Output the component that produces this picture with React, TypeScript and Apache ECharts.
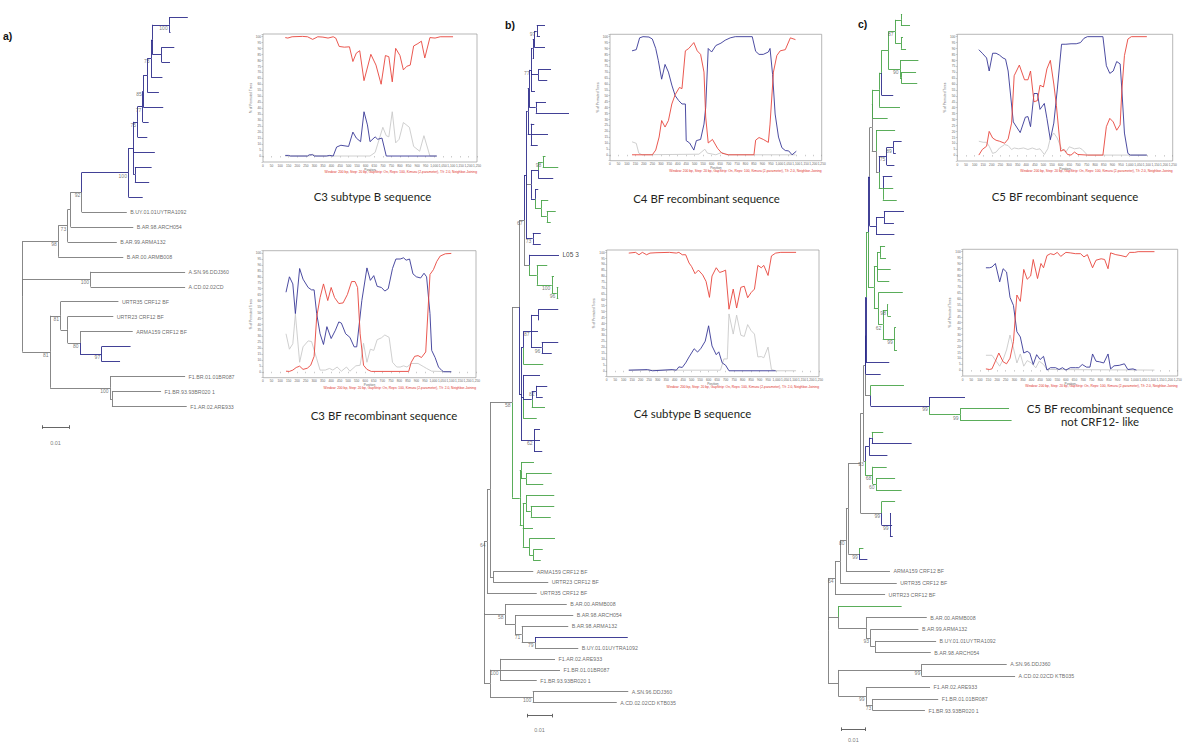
import React, { useEffect, useRef } from "react";
import * as echarts from "echarts";

// ---------- colours ----------
const BLUE = "#2c2b8a";
const GREEN = "#47a447";
const GREY = "#7b7b7b";
const COL: Record<string, string> = { k: GREY, b: BLUE, g: GREEN };
const P_RED = "#e8453c";
const P_BLUE = "#383896";
const P_GREY = "#c9c9c9";

// ---------- tree data (branch depth in units of 0.001 subst./site) ----------
type TN = { d: number; c: string; n?: string; b?: string; h?: boolean; k?: TN[] };
const L = (d: number, c: string, n = ""): TN => ({ d, c, n });
const LH = (d: number, c: string, n: string): TN => ({ d, c, n, h: true });
const N = (d: number, c: string, b: string, k: TN[]): TN => ({ d, c, b, k });

const TREE_A: TN = N(0, "k", "", [
  N(13.3, "k", "98", [
    N(16.8, "k", "73", [
      N(17.9, "k", "", [
        N(22, "k", "92", [
          N(39.3, "b", "100", [
            N(41.1, "b", "", [
              N(42.7, "b", "75", [
                N(44.6, "b", "77", [
                  N(44.8, "b", "85", [
                    N(46.3, "b", "", [
                      N(47.7, "b", "73", [
                        N(48.3, "b", "", [
                          N(54.4, "b", "100", [L(61.3, "b"), L(54.9, "b")]),
                          N(51.6, "b", "", [L(56.3, "b"), L(54.7, "b")]),
                        ]),
                        L(51.9, "b"),
                      ]),
                      L(50.6, "b"),
                    ]),
                    L(52.2, "b"),
                  ]),
                  L(46.8, "b"),
                ]),
                L(46.3, "b"),
              ]),
              L(49.1, "b"),
              N(41.7, "b", "", [L(47.9, "b"), L(47, "b")]),
            ]),
            L(44.6, "b"),
          ]),
          L(38.7, "k", "B.UY.01.01UYTRA1092"),
        ]),
        L(41.1, "k", "B.AR.98.ARCH054"),
      ]),
      L(35, "k", "B.AR.99.ARMA132"),
    ]),
    L(37.4, "k", "B.AR.00.ARMB008"),
  ]),
  N(25.3, "k", "100", [L(60.3, "k", "A.SN.96.DDJ360"), L(60.3, "k", "A.CD.02.02CD")]),
  N(10.3, "k", "81", [
    N(14.2, "k", "81", [
      L(35.6, "k", "URTR35 CRF12 BF"),
      N(16.8, "k", "", [
        L(33.7, "k", "URTR23 CRF12 BF"),
        N(21.4, "k", "80", [
          L(40.9, "k", "ARMA159 CRF12 BF"),
          N(29.4, "b", "97", [L(40.1, "b"), L(36.2, "b")]),
        ]),
      ]),
    ]),
    N(32.5, "k", "100", [
      L(60.3, "k", "F1.BR.01.01BR087"),
      N(33.2, "k", "", [L(51.4, "k", "F1.BR.93.93BR020 1"), L(60.9, "k", "F1.AR.02.ARE933")]),
    ]),
  ]),
]);

const TREE_B: TN = N(0, "k", "", [
  N(1.2, "k", "64", [
    N(2.4, "k", "", [
      N(11.2, "k", "58", [
        N(14.0, "k", "", [
          N(16.0, "k", "67", [
            N(16.8, "b", "", [
              N(17.5, "b", "", [
                N(18.1, "b", "", [
                  N(18.8, "b", "77", [
                    N(19.5, "b", "", [
                      N(20.1, "b", "", [
                        N(21.1, "b", "97", [L(24.4, "b"), L(22.4, "b")]),
                        L(24.4, "b"),
                      ]),
                      L(20.0, "b"),
                    ]),
                    N(21.7, "b", "", [L(26.8, "b"), L(25.3, "b")]),
                    L(20.4, "b"),
                  ]),
                  N(20.7, "b", "", [L(24.8, "b"), L(34.0, "b")]),
                ]),
                N(18.7, "b", "", [L(20.1, "b"), L(25.6, "b"), L(21.5, "b")]),
              ]),
              N(18.8, "k", "", [
                N(21.7, "b", "", [
                  N(23.5, "g", "98", [L(24.6, "g"), L(29.7, "g")]),
                  L(27.7, "b"),
                ]),
                N(20.4, "b", "", [
                  L(21.7, "b"),
                  N(22.8, "g", "", [L(25.7, "g"), N(25.1, "g", "", [L(28.7, "g"), L(26.7, "g")])]),
                ]),
              ]),
              N(19.5, "b", "73", [L(22.7, "b"), L(22.7, "b")]),
            ]),
            N(18.0, "k", "", [
              LH(30.0, "b", "L05 3"),
              N(21.1, "g", "", [
                L(25.3, "g"),
                N(27.1, "g", "100", [L(28.0, "g"), N(29.1, "g", "96", [L(29.7, "g"), L(29.7, "g")])]),
              ]),
            ]),
          ]),
          N(14.8, "b", "", [
            N(15.7, "b", "", [
              N(18.8, "b", "87", [
                N(21.7, "b", "", [L(29.7, "b"), L(21.7, "b")]),
                L(21.6, "b"),
                N(23.1, "b", "96", [L(29.7, "b"), L(27.1, "b")]),
              ]),
              L(23.7, "g"),
            ]),
            N(15.7, "b", "", [
              L(22.4, "b"),
              N(19.1, "b", "", [N(20.8, "b", "82", [L(25.3, "b"), L(23.5, "b")]), L(24.4, "g")]),
              L(21.1, "g"),
            ]),
            N(20.0, "b", "62", [L(22.4, "b"), L(22.4, "b"), L(23.3, "b")]),
          ]),
        ]),
        N(14.3, "g", "", [
          N(14.8, "g", "", [L(20.0, "g"), N(16.8, "g", "", [L(27.1, "g"), L(23.7, "g")])]),
          N(15.5, "g", "", [
            N(16.8, "g", "", [L(28.1, "g"), N(18.7, "g", "", [L(28.1, "g"), L(26.7, "g")])]),
            L(19.6, "g"),
            N(18.1, "g", "", [L(28.4, "g"), N(19.7, "g", "", [L(23.5, "g"), L(22.7, "g")])]),
          ]),
        ]),
      ]),
      N(3.7, "k", "", [L(19.7, "k", "ARMA159 CRF12 BF"), L(25.7, "k", "URTR23 CRF12 BF")]),
    ]),
    L(21.1, "k", "URTR35 CRF12 BF"),
  ]),
  N(8.4, "k", "58", [
    L(33.1, "k", "B.AR.00.ARMB008"),
    N(12.4, "k", "", [
      L(35.7, "k", "B.AR.98.ARCH054"),
      N(15.1, "k", "71", [
        L(33.7, "k", "B.AR.98.ARMA132"),
        N(20.4, "k", "79", [L(57.5, "b"), L(37.7, "k", "B.UY.01.01UYTRA1092")]),
      ]),
    ]),
  ]),
  N(2.4, "k", "", [
    N(6.4, "k", "100", [
      L(28.4, "k", "F1.AR.02.ARE933"),
      L(30.4, "k", "F1.BR.01.01BR087"),
      L(21.1, "k", "F1.BR.93.93BR020 1"),
    ]),
    N(19.5, "k", "100", [L(57.7, "k", "A.SN.96.DDJ360"), L(53.1, "k", "A.CD.02.02CD KTB035")]),
  ]),
]);

const TREE_C: TN = N(0, "k", "", [
  N(3.0, "k", "64", [
    N(5.2, "k", "", [
      N(7.7, "k", "80", [
        N(8.7, "k", "", [
          N(14.0, "k", "", [
            N(15.2, "k", "", [
              N(15.9, "k", "", [
                N(16.2, "b", "", [
                  N(16.3, "b", "", [
                    N(17.2, "g", "", [
                      N(17.9, "b", "", [
                        N(18.8, "k", "", [
                          N(19.2, "k", "", [
                            N(22.0, "g", "", [
                              N(23.0, "g", "", [
                                N(25.9, "g", "", [
                                  N(28.8, "g", "87", [
                                    N(31.3, "g", "", [L(31.8, "g"), L(35.2, "g")]),
                                    N(31.3, "g", "", [L(32.2, "g"), L(33.5, "g")]),
                                  ]),
                                  N(30.9, "g", "90", [L(38.8, "g"), N(31.6, "g", "", [L(37.8, "g"), L(38.3, "g")])]),
                                ]),
                                L(28.0, "b"),
                              ]),
                              L(30.9, "g"),
                            ]),
                            L(25.6, "g"),
                          ]),
                          N(20.6, "k", "", [
                            L(28.8, "g"),
                            N(21.8, "k", "", [
                              N(25.2, "b", "75", [N(28.0, "b", "89", [L(31.6, "b"), L(29.1, "b")]), L(28.5, "b")]),
                              N(23.5, "g", "", [L(27.6, "b"), L(28.0, "g"), L(29.5, "g")]),
                            ]),
                          ]),
                        ]),
                        N(20.6, "b", "", [N(24.0, "b", "", [L(32.6, "b"), L(28.3, "b")]), L(28.5, "b")]),
                      ]),
                      N(19.7, "g", "", [
                        N(21.2, "g", "", [N(22.3, "g", "", [L(24.5, "g"), L(24.9, "g")]), L(26.9, "g"), L(26.3, "g")]),
                        N(21.6, "g", "", [
                          L(32.1, "g"),
                          N(23.5, "g", "62", [
                            N(25.5, "g", "98", [L(25.8, "g"), L(27.0, "g")]),
                            N(28.5, "g", "99", [L(29.2, "g"), L(28.8, "g"), L(29.6, "g")]),
                          ]),
                        ]),
                      ]),
                    ]),
                    L(26.3, "b"),
                  ]),
                  L(22.6, "b"),
                ]),
                N(18.3, "k", "", [
                  L(32.6, "g"),
                  N(43.5, "b", "99", [L(58.8, "b"), N(56.7, "g", "99", [L(77.7, "g"), L(78.8, "g")])]),
                ]),
              ]),
              N(16.0, "k", "93", [
                N(17.7, "b", "", [N(18.8, "b", "", [L(23.7, "g"), L(35.9, "b")]), L(25.5, "b")]),
                N(19.2, "g", "68", [L(25.2, "g"), N(20.6, "g", "60", [L(28.8, "g"), L(31.6, "g")])]),
              ]),
            ]),
            N(23.0, "k", "99", [L(28.8, "g"), N(26.6, "b", "99", [L(27.0, "b"), L(27.5, "b"), L(27.8, "b")])]),
          ]),
          N(13.4, "k", "99", [L(15.2, "g"), L(16.9, "b")]),
        ]),
        L(26.6, "k", "ARMA159 CRF12 BF"),
      ]),
      L(29.5, "k", "URTR35 CRF12 BF"),
    ]),
    L(24.5, "k", "URTR23 CRF12 BF"),
  ]),
  N(4.4, "k", "", [
    L(31.6, "g"),
    N(16.3, "k", "", [
      L(42.4, "k", "B.AR.00.ARMB008"),
      N(18.3, "k", "93", [
        L(38.8, "k", "B.AR.99.ARMA132"),
        N(20.2, "k", "", [L(46.4, "k", "B.UY.01.01UYTRA1092"), L(44.1, "k", "B.AR.98.ARCH054")]),
      ]),
    ]),
  ]),
  N(4.4, "k", "", [
    N(40.2, "k", "99", [L(76.7, "k", "A.SN.96.DDJ360"), L(80.3, "k", "A.CD.02.02CD KTB035")]),
    N(16.3, "k", "99", [
      L(43.8, "k", "F1.AR.02.ARE933"),
      N(19.2, "k", "73", [L(47.3, "k", "F1.BR.01.01BR087"), L(41.6, "k", "F1.BR.93.93BR020 1")]),
    ]),
  ]),
]);

const SCALE_LABEL = "0.01";

// ---------- bootscan data: [position, % of permuted trees] ----------
const A_TOP_RED = [[130,99],[145,98.6],[170,99.7],[230,100],[260,99.7],[290,97.5],[320,99.7],[350,99.4],[380,98.6],[410,99.7],[425,98.6],[445,91.6],[475,91],[505,91.3],[525,79],[545,86],[565,88],[590,63],[630,85],[660,76],[690,60],[715,84],[735,83],[755,62],[775,90],[800,84],[820,72],[840,75],[860,76],[880,92],[905,94],[925,96],[945,82],[975,99],[1005,98.6],[1035,99.7],[1110,99.7]];
const A_TOP_BLUE = [[130,0.5],[150,0.5],[160,0],[260,0],[270,1],[290,1],[300,0],[370,0],[390,0.5],[410,0],[430,7.5],[455,9],[500,8],[525,20],[545,15],[570,12],[590,37],[610,26],[625,12],[655,16],[670,14],[695,15],[720,0],[1015,0]];
const A_TOP_GREY = [[130,0],[270,0],[290,1.5],[310,0],[625,0],[655,3],[670,10],[700,24],[720,17],[735,16],[755,37],[775,11],[795,14],[820,28],[855,24],[880,8],[915,4],[940,17],[975,0],[1015,0]];

const A_BOT_RED = [[135,0.5],[155,0.3],[175,1.4],[195,3.6],[215,4.7],[235,2],[260,3],[280,5.5],[300,13],[315,46],[335,62.5],[355,74],[380,60],[400,71],[420,62.5],[445,57.5],[470,58],[495,65],[520,76],[540,76],[555,71],[570,32],[590,5.5],[610,2],[635,0.3],[855,0.3],[870,8],[890,13],[910,13.6],[930,12],[955,16.7],[980,82],[1000,86],[1020,93],[1040,97.5],[1070,99.4],[1105,99.7]];
const A_BOT_BLUE = [[135,67],[155,80],[175,74],[190,49],[215,87],[235,78],[265,71],[285,69],[300,69],[315,49],[335,32],[355,23],[375,38],[400,28],[425,35],[445,42],[460,41],[485,32],[510,29],[535,21],[550,21],[580,60],[610,87.5],[630,77],[650,81],[670,72],[695,71],[715,68],[735,70],[760,87],[780,95],[805,95],[825,96],[840,94],[860,95],[880,82.5],[900,80],[925,79],[945,83],[960,80],[980,49],[990,18],[1010,12],[1030,4],[1050,1],[1060,0],[1105,0]];
const A_BOT_GREY = [[135,32],[155,19],[175,23.6],[190,48.6],[215,8],[235,21],[265,26],[285,25.5],[315,11],[335,1.4],[365,1.4],[390,2.8],[410,1.4],[435,4],[460,0.5],[490,4],[510,0.5],[545,5],[570,5.5],[590,24],[610,8],[630,19],[650,18],[670,27],[695,28.6],[715,31],[740,29],[760,8],[785,4],[805,4],[825,5],[845,4],[870,7],[910,7],[940,4.5],[960,2.8],[990,0.5],[1105,0]];

const B_TOP_RED = [[130,0],[250,0],[270,4],[290,15],[305,29],[325,23.5],[345,29],[365,43],[385,51],[410,57],[425,56],[445,88],[465,90],[495,95],[515,88],[535,85],[555,70],[565,32],[580,10],[605,13],[635,5.5],[660,1.4],[700,0],[850,0],[860,12.4],[880,14.6],[905,13],[935,10.5],[945,26],[965,70],[985,84],[1005,88],[1035,89],[1065,99],[1095,97.5]];
const B_TOP_BLUE = [[130,88],[155,89],[175,99],[195,100],[230,99.7],[250,98],[270,90],[285,80],[305,64],[325,76.5],[345,70],[365,59],[385,50],[405,46],[425,43],[445,43],[450,12],[470,10],[495,4],[510,12],[535,13],[555,26],[565,40],[580,90],[600,87],[625,92.5],[655,94.5],[680,97],[710,99],[740,100],[840,100],[860,87.6],[880,85],[905,85],[935,87],[945,90],[960,68],[975,34.5],[995,15],[1015,6],[1035,3.6],[1055,3.3],[1075,0],[1100,3]];
const B_TOP_GREY = [[130,11],[155,9.7],[170,1.4],[190,0],[525,0.5],[560,4.7],[575,1.4],[625,0],[660,2],[690,0],[1095,0]];

const B_BOT_RED = [[130,99.4],[170,100],[190,98],[210,100],[235,98],[255,99.4],[290,99.7],[370,100],[410,99.4],[425,100],[445,98],[465,98],[485,91],[500,88],[520,82],[540,85],[565,81],[585,75.5],[605,62],[620,80],[645,87],[665,83],[685,84],[700,85],[720,52],[745,69],[765,53],[790,70.5],[810,71.4],[830,61.7],[850,66],[870,69],[890,89],[910,87],[925,89],[950,80.5],[970,97],[995,99.4],[1025,100],[1115,100]];
const B_BOT_BLUE = [[130,0.5],[240,1],[270,0],[385,1],[410,0.5],[425,3.3],[445,2.8],[465,6.7],[485,11.7],[515,18.6],[535,15.8],[555,19],[580,25],[600,38],[620,21],[645,13.6],[660,16],[680,6.7],[700,4.7],[720,0],[995,0]];
const B_BOT_GREY = [[130,0.5],[670,0.5],[690,10],[710,10],[720,48],[745,31],[765,47],[790,30],[810,29],[830,39],[850,34],[870,31],[890,11.7],[910,12],[925,11],[950,20],[970,1],[995,0],[1115,0]];

const C_TOP_RED = [[125,0],[145,4.7],[170,7.5],[185,20],[205,14.4],[225,12.5],[245,11.7],[275,10],[295,13.6],[315,27],[330,67],[360,76],[390,63.6],[410,63.6],[425,71],[445,45],[465,46],[480,59],[500,57.5],[520,72.8],[540,80],[560,60],[575,42],[600,3.3],[620,4.7],[640,0.5],[660,0],[680,2.5],[700,0.5],[755,0],[845,0],[865,24],[885,31],[905,28],[925,21],[945,25.5],[955,55],[970,84],[990,98],[1010,100],[1100,100]];
const C_TOP_BLUE = [[125,89],[145,86],[170,82],[185,71],[205,86],[225,86],[245,84.4],[265,82],[280,81],[295,71],[325,28],[365,19],[395,32],[410,32.5],[425,24],[445,52],[465,52],[480,38.6],[505,43.6],[520,31],[540,13],[560,27],[580,55],[605,93.6],[630,93.6],[660,94],[690,94],[715,95],[735,98.6],[755,100],[845,100],[865,75.5],[885,69],[905,71],[925,79],[945,77],[955,55],[970,18.6],[990,1.4],[1005,0],[1100,0]];
const C_TOP_GREY = [[125,11.7],[150,10.8],[170,10.8],[185,7.5],[205,1.4],[225,2.5],[245,6],[275,8.9],[295,8],[315,4.7],[330,6],[355,5.3],[385,6],[410,4.7],[435,6],[460,4.7],[480,5.3],[505,0.5],[525,5.3],[540,14.4],[560,18.6],[580,14.4],[605,5.3],[630,2.5],[650,7],[680,5.3],[710,6],[725,4.7],[755,0],[1100,0]];

const C_BOT_RED = [[135,1],[155,0.5],[170,1],[190,7.5],[210,14.4],[235,7],[255,5.3],[275,10],[295,24],[315,63.4],[335,58],[355,85],[375,76.7],[395,79.5],[410,93.4],[435,77.3],[455,90],[470,86.4],[490,96.7],[510,98.3],[530,97.5],[550,99.4],[570,96],[600,99.4],[625,99],[655,98.3],[685,98.3],[705,95.6],[725,97.5],[755,86.4],[775,92.8],[805,94],[825,93.4],[845,85.6],[860,99],[890,97.5],[920,96.7],[950,95.6],[970,99.4],[1000,99.4],[1020,100],[1115,100]];
const C_BOT_BLUE = [[135,86.4],[155,86.4],[170,87],[190,90],[215,74.5],[235,85.6],[255,82.8],[275,61.5],[295,54.6],[315,32.4],[335,28],[355,14.4],[375,15.8],[390,14.4],[410,4.7],[430,13],[450,8.9],[470,11.6],[490,0],[510,2],[540,2],[560,0.5],[580,2],[600,0],[625,2],[655,2],[675,2],[695,4.7],[720,2.5],[740,2.5],[755,13.6],[775,7.5],[795,7],[820,6],[845,13.6],[860,1],[880,3.6],[910,4],[940,5.3],[960,0.5],[990,1],[1010,0]];
const C_BOT_GREY = [[135,12.5],[170,12.5],[195,7.5],[215,3.3],[235,8.9],[255,17],[275,29.6],[295,18.6],[315,6],[335,13.6],[355,3.3],[375,8],[400,6],[425,1.9],[445,7.5],[470,4.7],[490,0.5],[1115,0]];

const CAPTIONS = [
  ["C3 subtype B sequence"],
  ["C3 BF recombinant sequence"],
  ["C4 BF recombinant sequence"],
  ["C4 subtype B sequence"],
  ["C5 BF recombinant sequence"],
  ["C5 BF recombinant sequence", "not CRF12- like"],
];
const FOOTNOTE =
  "Window: 200 bp, Step: 20 bp, GapStrip: On, Reps: 100, Kimura (2-parameter), T/t: 2.0, Neighbor-Joining";
const PANEL_LETTERS = ["a)", "b)", "c)"];

// ---------- layout ----------
function layoutTree(root: TN) {
  let idx = 0;
  const segs: Record<string, any[]> = { k: [], b: [], g: [] };
  const leaves: any[] = [];
  const boots: any[] = [];
  const walk = (node: TN): number => {
    if (!node.k) {
      const y = idx++;
      if (node.n) {
        const item: any = { value: [node.d, y], name: node.n };
        if (node.h) item.label = { color: "#111", fontSize: 6.5 };
        leaves.push(item);
      }
      return y;
    }
    const ys = node.k.map(walk);
    const y = (ys[0] + ys[ys.length - 1]) / 2;
    node.k.forEach((ch, i) => {
      segs[ch.c].push({ coords: [[node.d, y], [node.d, ys[i]]] });
      segs[ch.c].push({ coords: [[node.d, ys[i]], [ch.d, ys[i]]] });
    });
    if (node.b) boots.push({ value: [node.d, y], name: node.b });
    return y;
  };
  walk(root);
  return { segs, leaves, boots, n: idx };
}

const LABEL_FONT = "'Liberation Sans Narrow', 'Liberation Sans', sans-serif";
const HIDDEN = "rgba(0,0,0,0)";

function buildOption() {
  const TREES = [
    { tree: TREE_A, left: 22.3, top: 17.3, k: 2.7, sp: 14.97, xmax: 70, bar: [7.3, 27.37], lab: 16 },
    { tree: TREE_B, left: 484, top: 25.5, k: 2.5, sp: 10.92, xmax: 60, bar: [17.2, 63.2], lab: 14 },
    { tree: TREE_C, left: 828, top: 14, k: 2.33, sp: 11.61, xmax: 82, bar: [5.9, 61.6], lab: 10.5 },
  ];
  const PLOTS = [
    { left: 263, top: 34, width: 214, height: 128, s: [A_TOP_GREY, A_TOP_BLUE, A_TOP_RED], cx: 372.5, cy: 196.7 },
    { left: 263, top: 250.7, width: 213, height: 127, s: [A_BOT_GREY, A_BOT_BLUE, A_BOT_RED], cx: 384, cy: 415 },
    { left: 610, top: 34.3, width: 211.7, height: 126.4, s: [B_TOP_GREY, B_TOP_BLUE, B_TOP_RED], cx: 706.5, cy: 198.3 },
    { left: 606.7, top: 250, width: 212.3, height: 126.7, s: [B_BOT_GREY, B_BOT_BLUE, B_BOT_RED], cx: 692.5, cy: 413.3 },
    { left: 957.3, top: 34.3, width: 215.4, height: 126.7, s: [C_TOP_GREY, C_TOP_BLUE, C_TOP_RED], cx: 1065, cy: 196.7 },
    { left: 962.7, top: 249.3, width: 215, height: 126.7, s: [C_BOT_GREY, C_BOT_BLUE, C_BOT_RED], cx: 1100, cy: 408.3 },
  ];
  const grid: any[] = [];
  const xAxis: any[] = [];
  const yAxis: any[] = [];
  const series: any[] = [];
  const graphic: any[] = [];

  TREES.forEach((t, gi) => {
    const lay = layoutTree(t.tree);
    grid.push({ left: t.left, top: t.top, width: t.xmax * t.k, height: (lay.n - 1) * t.sp, containLabel: false });
    xAxis.push({ gridIndex: gi, type: "value", min: 0, max: t.xmax, show: false });
    yAxis.push({ gridIndex: gi, type: "value", min: 0, max: lay.n - 1, inverse: true, show: false });
    ["k", "g", "b"].forEach((c) => {
      series.push({
        type: "lines",
        coordinateSystem: "cartesian2d",
        xAxisIndex: gi,
        yAxisIndex: gi,
        polyline: false,
        silent: true,
        clip: false,
        lineStyle: { color: COL[c], width: 0.9, opacity: 1 },
        data: lay.segs[c],
      });
    });
    series.push({
      type: "scatter",
      xAxisIndex: gi,
      yAxisIndex: gi,
      symbolSize: 1,
      clip: false,
      silent: true,
      itemStyle: { color: HIDDEN },
      label: { show: true, position: "right", distance: 3, formatter: "{b}", fontSize: 5.3, fontFamily: LABEL_FONT, color: "#444" },
      data: lay.leaves,
    });
    series.push({
      type: "scatter",
      xAxisIndex: gi,
      yAxisIndex: gi,
      symbolSize: 1,
      clip: false,
      silent: true,
      itemStyle: { color: HIDDEN },
      label: { show: true, position: [-1, 1], align: "right", verticalAlign: "top", formatter: "{b}", fontSize: 5, fontFamily: LABEL_FONT, color: "#555" },
      data: lay.boots,
    });
    // scale bar (0.01 = 10 units)
    const [bx, by] = t.bar;
    const tick = 1.8 / t.sp;
    series.push({
      type: "lines",
      coordinateSystem: "cartesian2d",
      xAxisIndex: gi,
      yAxisIndex: gi,
      polyline: false,
      silent: true,
      clip: false,
      lineStyle: { color: "#555", width: 0.9, opacity: 1 },
      data: [
        { coords: [[bx, by], [bx + 10, by]] },
        { coords: [[bx, by - tick], [bx, by + tick]] },
        { coords: [[bx + 10, by - tick], [bx + 10, by + tick]] },
      ],
    });
    series.push({
      type: "scatter",
      xAxisIndex: gi,
      yAxisIndex: gi,
      symbolSize: 1,
      clip: false,
      silent: true,
      itemStyle: { color: HIDDEN },
      label: { show: true, position: "inside", formatter: "{b}", fontSize: 5.5, fontFamily: LABEL_FONT, color: "#555" },
      data: [{ value: [bx + 5, by + t.lab / t.sp], name: SCALE_LABEL }],
    });
  });

  const fmtPos = (v: number) => (v >= 1000 ? Math.floor(v / 1000) + "," + String(v % 1000).padStart(3, "0") : String(v));
  PLOTS.forEach((p, i) => {
    const gi = TREES.length + i;
    grid.push({ left: p.left, top: p.top, width: p.width, height: p.height, show: true, borderColor: "#9a9a9a", borderWidth: 0.7, backgroundColor: "#fff" });
    xAxis.push({
      gridIndex: gi,
      type: "value",
      min: 0,
      max: 1250,
      interval: 50,
      axisLine: { show: false },
      axisTick: { show: true, length: 1.5, lineStyle: { color: "#999", width: 0.5 } },
      axisLabel: { fontSize: 3.2, color: "#666", margin: 1.8, formatter: fmtPos },
      splitLine: { show: false },
      name: "Position",
      nameLocation: "middle",
      nameGap: 6,
      nameTextStyle: { fontSize: 3.2, color: "#666" },
    });
    yAxis.push({
      gridIndex: gi,
      type: "value",
      min: -5,
      max: 102,
      interval: 5,
      axisLine: { show: false },
      axisTick: { show: true, length: 1.5, lineStyle: { color: "#999", width: 0.5 } },
      axisLabel: { fontSize: 3.2, color: "#666", margin: 2, formatter: (v: number) => (v < 0 || v > 100 ? "" : String(v)) },
      splitLine: { show: false },
      name: "% of Permuted Trees",
      nameLocation: "middle",
      nameGap: 9,
      nameRotate: 90,
      nameTextStyle: { fontSize: 3.2, color: "#666" },
    });
    const cols = [P_GREY, P_BLUE, P_RED];
    p.s.forEach((d, j) => {
      series.push({
        type: "line",
        xAxisIndex: gi,
        yAxisIndex: gi,
        data: d,
        showSymbol: false,
        symbol: "none",
        silent: true,
        lineStyle: { color: cols[j], width: 0.9 },
      });
    });
    graphic.push({
      type: "text",
      x: p.left + p.width,
      y: p.top + p.height + 9.8,
      silent: true,
      style: { text: FOOTNOTE, fontSize: 3.3, fill: "#e0302a", align: "right", textAlign: "right", verticalAlign: "middle", textVerticalAlign: "middle", fontFamily: "Liberation Sans" },
    });
    CAPTIONS[i].forEach((line, li) => {
      graphic.push({
        type: "text",
        x: p.cx,
        y: p.cy + li * 13.4,
        silent: true,
        style: { text: line, fontSize: 11.4, fill: "#231f20", align: "center", textAlign: "center", verticalAlign: "middle", textVerticalAlign: "middle", fontFamily: "Lato" },
      });
    });
  });

  const LETTER_POS = [[3, 36], [505, 25], [858, 24]];
  PANEL_LETTERS.forEach((t, i) => {
    graphic.push({
      type: "text",
      x: LETTER_POS[i][0],
      y: LETTER_POS[i][1],
      silent: true,
      style: { text: t, fontSize: 10.5, fontWeight: "bold", fill: "#111", align: "left", textAlign: "left", verticalAlign: "middle", textVerticalAlign: "middle", fontFamily: "Liberation Sans" },
    });
  });

  return {
    animation: false,
    backgroundColor: "#fff",
    textStyle: { fontFamily: "Liberation Sans" },
    grid,
    xAxis,
    yAxis,
    series,
    graphic,
  };
}

export default function App() {
  const ref = useRef<HTMLDivElement>(null);
  useEffect(() => {
    document.body.style.margin = "0";
    const chart = echarts.init(ref.current!, undefined, { renderer: "svg" });
    chart.setOption(buildOption() as any);
    return () => chart.dispose();
  }, []);
  return <div ref={ref} style={{ width: 1200, height: 746, background: "#fff" }} />;
}
